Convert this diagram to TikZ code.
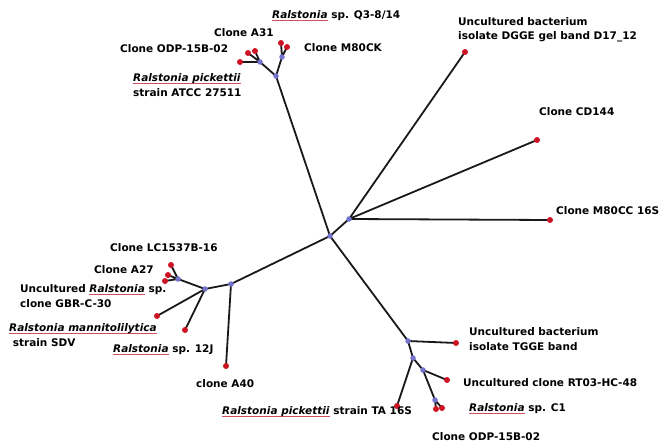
\documentclass[tikz,border=0pt]{standalone}
\usepackage{fontspec}
\setmainfont{DejaVu Sans}
\usepackage{xcolor}
\definecolor{tipred}{RGB}{205,20,35}
\definecolor{nodeblue}{RGB}{115,115,205}
\definecolor{ulred}{RGB}{205,80,90}
\newsavebox{\ralbox}
\newcommand{\ral}[1]{\sbox{\ralbox}{\textit{#1}}\rlap{\color{ulred}\rule[-1.8pt]{\wd\ralbox}{0.6pt}}\usebox{\ralbox}}
\begin{document}
\begin{tikzpicture}[x=1pt,y=-1pt,
  branch/.style={line width=1.8pt,black!90},
  inner/.style={circle,fill=nodeblue,inner sep=0pt,minimum size=5.5pt},
  tip/.style={circle,fill=tipred,inner sep=0pt,minimum size=6pt},
  lab/.style={font=\bfseries\fontsize{10.5}{14.5}\selectfont,anchor=west,align=left,inner sep=0pt}]
\useasboundingbox (0,0) rectangle (664,447);
% coordinates
\coordinate (R1) at (330,236);
\coordinate (R2) at (349,219);
\coordinate (T0) at (276,76);
\coordinate (TL) at (260,62);
\coordinate (TR) at (282,57);
\coordinate (t1) at (240,62);
\coordinate (t2) at (248,53);
\coordinate (t3) at (255,51);
\coordinate (t4) at (281,43);
\coordinate (t5) at (287,47);
\coordinate (DG) at (465,52);
\coordinate (CD) at (537,140);
\coordinate (MC) at (550,220);
\coordinate (L1) at (231,284);
\coordinate (L2) at (205,289);
\coordinate (L3) at (178,279);
\coordinate (l1) at (171,265);
\coordinate (l2) at (168,275);
\coordinate (l3) at (165,281);
\coordinate (MN) at (157,316);
\coordinate (SJ) at (185,330);
\coordinate (A40) at (226,366);
\coordinate (B1) at (408,341);
\coordinate (B2) at (413,358);
\coordinate (B3) at (423,370);
\coordinate (B4) at (435,400);
\coordinate (TG) at (456,343);
\coordinate (TA) at (397,406);
\coordinate (RT) at (447,380);
\coordinate (c1) at (436,409);
\coordinate (c2) at (442,408);
% branches
\draw[branch] (R1)--(R2) (R1)--(T0) (R1)--(L1) (R1)--(B1);
\draw[branch] (R2)--(DG) (R2)--(CD) (R2)--(MC);
\draw[branch] (T0)--(TL) (T0)--(TR) (TL)--(t1) (TL)--(t2) (TL)--(t3) (TR)--(t4) (TR)--(t5);
\draw[branch] (L1)--(L2) (L1)--(A40) (L2)--(L3) (L2)--(MN) (L2)--(SJ) (L3)--(l1) (L3)--(l2) (L3)--(l3);
\draw[branch] (B1)--(TG) (B1)--(B2) (B2)--(TA) (B2)--(B3) (B3)--(RT) (B3)--(B4) (B4)--(c1) (B4)--(c2);
% inner nodes
\foreach \p in {R1,R2,T0,TL,TR,L1,L2,L3,B1,B2,B3,B4} \node[inner] at (\p) {};
% tips
\foreach \p in {t1,t2,t3,t4,t5,DG,CD,MC,l1,l2,l3,MN,SJ,A40,TG,TA,RT,c1,c2} \node[tip] at (\p) {};
% labels
\node[lab] (q3) at (272,16) {\ral{Ralstonia} sp. Q3-8/14};
\node[lab] (a31) at (214,33) {Clone A31};
\node[lab] (odp1) at (120,49) {Clone ODP-15B-02};
\node[lab] (m80ck) at (304,48) {Clone M80CK};
\node[lab] (atcc) at (133,85) {\ral{Ralstonia pickettii}\\strain ATCC 27511};
\node[lab] (dgge) at (458,29.5) {Uncultured bacterium\\isolate DGGE gel band D17\_12};
\node[lab] (cd144) at (539,112) {Clone CD144};
\node[lab] (m80cc) at (556,211) {Clone M80CC 16S};
\node[lab] (lc) at (110,248) {Clone LC1537B-16};
\node[lab] (a27) at (94,270) {Clone A27};
\node[lab] (gbr) at (20,296) {Uncultured \ral{Ralstonia} sp.\\clone GBR-C-30};
\node[lab] (sdv) at (9,335) {\ral{Ralstonia mannitolilytica}\\\ strain SDV};
\node[lab] (sp12j) at (113,350) {\ral{Ralstonia} sp. 12J};
\node[lab] (a40) at (196,384) {clone A40};
\node[lab] (tgge) at (469,339) {Uncultured bacterium\\isolate TGGE band};
\node[lab] (rt03) at (463,383) {Uncultured clone RT03-HC-48};
\node[lab] (spc1) at (469,409) {\ral{Ralstonia} sp. C1};
\node[lab] (ta16) at (222,412) {\ral{Ralstonia pickettii} strain TA 16S};
\node[lab] (odp2) at (432,437) {Clone ODP-15B-02};
\end{tikzpicture}
\end{document}
